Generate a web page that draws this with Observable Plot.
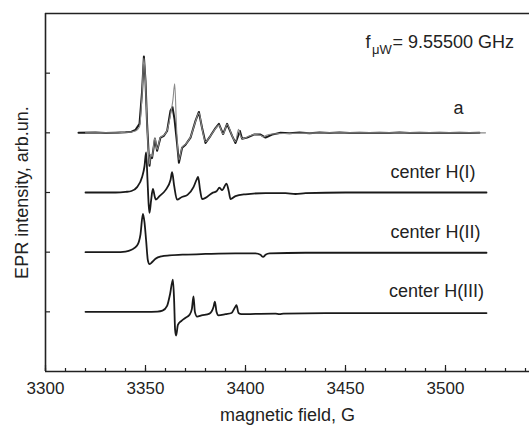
<!DOCTYPE html>
<html><head><meta charset="utf-8">
<script src="https://cdn.jsdelivr.net/npm/d3@7"></script>
<script src="https://cdn.jsdelivr.net/npm/@observablehq/plot@0.6"></script>
<style>html,body{margin:0;padding:0;background:#fff;overflow:hidden}</style>
</head><body><div id="chart"></div>
<script>
// ---- data (field in G, intensity in arbitrary units relative to each trace's baseline) ----
const aField = [3316.5,3325,3330,3335,3340,3343,3345,3347,3348.3,3349.2,3350,3350.8,3351.5,3352,3352.6,3353.3,3354.7,3355.8,3357.5,3359.2,3360.8,3362.5,3363.5,3364.5,3365.8,3366.7,3368.3,3370,3372.5,3375,3376.7,3378.3,3380,3382.5,3385,3386.7,3388.8,3390.8,3393.3,3395,3397.2,3398.3,3400.8,3404.2,3407.5,3410,3413.3,3417.5,3422,3427,3432,3437,3442,3447,3452,3457,3462,3467,3472,3477,3482,3487,3492,3497,3502,3507,3512,3517];
const aExp = [0,0.004,-0.003,0.003,0.01,0.02,0.05,0.15,0.7,1.28,0.87,0.15,-0.3,-0.55,-0.38,-0.42,-0.1,-0.3,-0.08,-0.05,0.03,0.37,0.43,0.23,-0.18,-0.5,-0.25,-0.2,-0.08,0.2,0.35,0.08,-0.17,-0.05,0.08,0.15,-0.02,0.15,-0.05,-0.17,0.03,-0.1,-0.08,-0.03,-0.03,-0.08,-0.03,0,-0.008,0.004,-0.005,0.004,-0.003,0.005,-0.004,0.003,-0.004,0.003,-0.002,0.004,-0.003,0.002,-0.004,0.003,-0.002,0.003,-0.003,0];

const simField = [3320,3335,3340,3343,3345,3347,3348.3,3349.2,3350,3350.8,3351.5,3352,3352.6,3353.3,3354.7,3355.8,3357.5,3359.2,3360.8,3362.5,3363.7,3364.6,3365.5,3366.7,3368.3,3370,3372.5,3375,3376.7,3378.3,3380,3382.5,3385,3386.7,3388.8,3390.8,3393.3,3395,3396.5,3397.5,3398.5,3400.8,3404.2,3407.5,3409,3410.5,3413.3,3420,3440,3520];
const simVal = [0,0,0.01,0.015,0.03,0.1,0.65,1.25,0.85,0.12,-0.32,-0.52,-0.36,-0.4,-0.08,-0.28,-0.07,-0.04,0.04,0.3,0.55,0.82,0.1,-0.45,-0.24,-0.19,-0.07,0.19,0.33,0.07,-0.15,-0.05,0.07,0.13,-0.02,0.14,-0.05,-0.15,0.06,-0.05,-0.1,-0.07,-0.03,-0.04,-0.07,-0.04,-0.02,-0.01,0,0];

const h1Field = [3320,3335,3340,3343,3345.8,3348.3,3349.5,3350.3,3351,3351.6,3352,3352.8,3353.7,3354.7,3355.2,3357,3360,3362.5,3363.3,3364.3,3365.8,3368,3371,3374,3375.5,3376.3,3377.3,3378.3,3380,3383.3,3385.5,3387,3388.3,3390.5,3391.7,3392.5,3395,3400,3410,3420,3425,3430,3450,3520.5];
const h1Val = [0,0,0.01,0.025,0.09,0.26,0.44,0.67,0.21,-0.21,-0.34,-0.13,0.06,-0.08,-0.12,-0.06,0.04,0.21,0.34,0.12,-0.12,-0.08,-0.04,0.09,0.21,0.26,0.04,-0.11,-0.09,-0.01,0.02,0.08,0.04,0.15,0.01,-0.11,-0.06,-0.03,-0.01,-0.01,-0.025,-0.01,0,0];

const h2Field = [3320,3335,3340,3343,3345.8,3347.5,3348.7,3349.5,3350.3,3351.2,3352,3353.5,3355,3358,3362,3370,3380,3395,3405,3407.5,3408.8,3410,3412,3430,3520.5];
const h2Val = [0,0,0.01,0.04,0.11,0.3,0.64,0.5,0.2,-0.14,-0.2,-0.16,-0.11,-0.07,-0.055,-0.04,-0.03,-0.02,-0.02,-0.045,-0.08,-0.045,-0.02,-0.01,-0.01];

const h3Field = [3320,3350,3356,3358.5,3360.8,3362.3,3363.7,3364.3,3364.8,3365.3,3366.2,3368,3370,3372,3373.2,3374,3374.7,3375.8,3378,3382,3384,3384.7,3385.5,3386.5,3390,3393,3395,3395.5,3396.5,3398,3405,3415,3417,3419,3440,3520.5];
const h3Val = [0,0,0.005,0.02,0.1,0.3,0.54,0.2,-0.3,-0.4,-0.22,-0.15,-0.1,-0.05,0.05,0.26,0,-0.08,-0.06,-0.03,0.08,0.17,0,-0.06,-0.04,-0.02,0.09,0.11,-0.02,-0.04,-0.035,-0.03,-0.04,-0.03,-0.02,-0.02];

const traceOffsets = [4, 3, 2, 1];           // a, H(I), H(II), H(III)
const majorTicks = [3300, 3350, 3400, 3450, 3500];
const minorTicks = d3.range(3300, 3541, 10);
const yTicks = [1, 2, 3, 4, 5];

const labelText = ["a", "center H(I)", "center H(II)", "center H(III)"];
const labelX = [3504, 3472.5, 3472.5, 3471.8];
const labelY = [4.324, 3.246, 2.241, 1.245];

const freqParts = ["f", "\u03bcW", "= 9.55500 GHz"];
const freqX = [3460, 3463.2, 3473.5];
const freqY = [5.425, 5.321, 5.425];
const freqSize = [18, 13, 18];

// ---- build tables ----
const rows = (field, vals, off) => field.map((g, i) => ({g, v: vals[i] + off}));
const aExpRows = rows(aField, aExp, traceOffsets[0]);
const aSimRows = rows(simField, simVal, traceOffsets[0]);
const h1Rows = rows(h1Field, h1Val, traceOffsets[1]);
const h2Rows = rows(h2Field, h2Val, traceOffsets[2]);
const h3Rows = rows(h3Field, h3Val, traceOffsets[3]);
const labels = labelText.map((t, i) => ({t, x: labelX[i], y: labelY[i]}));
const freq = freqParts.map((t, i) => ({t, x: freqX[i], y: freqY[i], s: freqSize[i]}));

const ink = "#222";
const font = "'Liberation Sans', Arial, Helvetica, sans-serif";
const curve = "monotone-x";

const chart = Plot.plot({
  width: 529, height: 425,
  marginLeft: 45, marginRight: 0, marginTop: 13, marginBottom: 54,
  x: {domain: [3300, 3542]},
  y: {domain: [0, 6]},
  style: {fontFamily: font, color: ink, background: "#fff", fontSize: "17px"},
  marks: [
    Plot.axisX({ticks: minorTicks, tickSize: -3, tickFormat: () => "", label: null, stroke: ink, strokeWidth: 1.2}),
    Plot.axisX({ticks: majorTicks, tickSize: -6, tickFormat: () => "", label: null, stroke: ink, strokeWidth: 1.2}),
    Plot.axisX({ticks: majorTicks, tickSize: 0, tickPadding: 10, tickFormat: d3.format("d"), label: null, fontSize: 17, fill: ink}),
    Plot.axisY({ticks: yTicks, tickSize: -5, tickFormat: () => "", label: null, stroke: ink, strokeWidth: 1.2}),
    Plot.ruleX([3300], {stroke: ink, strokeWidth: 1.6}),
    Plot.ruleY([0, 6], {stroke: ink, strokeWidth: 1.6}),
    Plot.line(aExpRows, {x: "g", y: "v", stroke: "#1a1a1a", strokeWidth: 2}),
    Plot.line(aSimRows, {x: "g", y: "v", curve, stroke: "#8a8a8a", strokeWidth: 1.1}),
    Plot.line(h1Rows, {x: "g", y: "v", curve, stroke: "#1a1a1a", strokeWidth: 1.8}),
    Plot.line(h2Rows, {x: "g", y: "v", curve, stroke: "#1a1a1a", strokeWidth: 1.8}),
    Plot.line(h3Rows, {x: "g", y: "v", curve, stroke: "#1a1a1a", strokeWidth: 1.8}),
    Plot.text(labels, {x: "x", y: "y", text: "t", textAnchor: "start", lineAnchor: "bottom", fontSize: 18, fill: ink}),
    Plot.text(freq, {x: "x", y: "y", text: "t", textAnchor: "start", lineAnchor: "bottom", fontSize: d => d.s, fill: ink}),
    Plot.text(["magnetic field, G"], {frameAnchor: "bottom", dy: 49, lineAnchor: "bottom", fontSize: 18, fill: ink}),
    Plot.text(["EPR intensity, arb.un."], {frameAnchor: "left", dx: -23, rotate: -90, textAnchor: "middle", fontSize: 18, fill: ink})
  ]
});
document.getElementById("chart").appendChild(chart);
</script>
</body></html>
